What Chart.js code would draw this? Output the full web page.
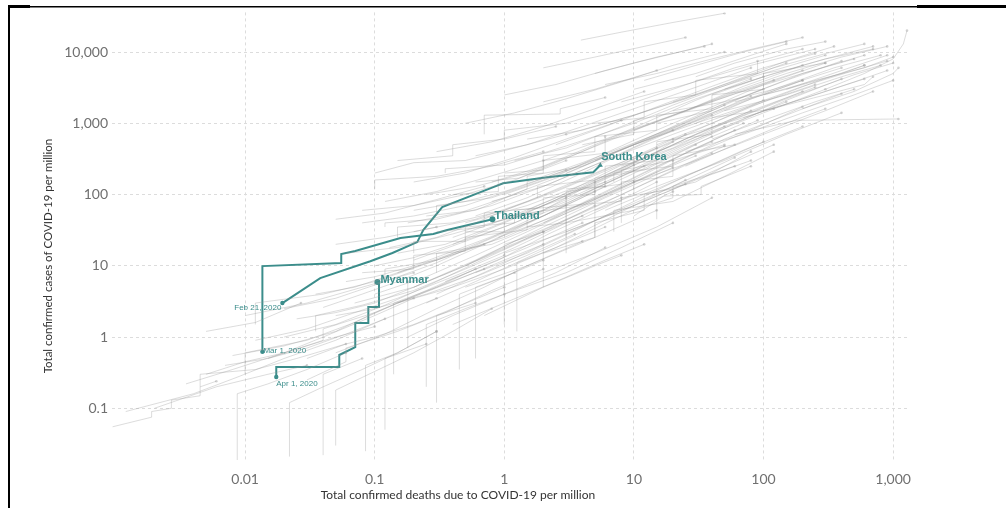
<!DOCTYPE html>
<html>
<head>
<meta charset="utf-8">
<script src="https://cdn.jsdelivr.net/npm/chart.js@4.4.1/dist/chart.umd.min.js"></script>
<style>
  html, body { margin: 0; padding: 0; background: #ffffff; }
  canvas { display: block; }
</style>
</head>
<body>
<canvas id="c" width="1006" height="508"></canvas>
<script>
// ---- Tick labels ----
const xTicks = [0.01, 0.1, 1, 10, 100, 1000];
const yTicks = [0.1, 1, 10, 100, 1000, 10000];

// ---- Highlighted countries: deaths per million (x), cases per million (y) ----
const koreaDeaths = [0.0194, 0.038, 0.0925, 0.137, 0.213, 0.237, 0.332, 0.823, 0.98, 2.15, 4.86, 5.5];
const koreaCases  = [3.0, 6.7, 11.6, 15.1, 21.5, 31.7, 66.5, 127, 144, 175, 206, 258];

const thailandDeaths = [0.0136, 0.0136, 0.0552, 0.0552, 0.0708, 0.158, 0.283, 0.363, 0.81];
const thailandCases  = [0.62, 9.9, 10.9, 14.6, 16.1, 24.5, 27.9, 31.7, 45];

const myanmarDeaths = [0.0174, 0.0174, 0.0533, 0.0533, 0.0708, 0.0708, 0.0893, 0.0893, 0.108, 0.108, 0.105];
const myanmarCases  = [0.275, 0.38, 0.38, 0.56, 0.72, 1.57, 1.57, 2.63, 2.63, 5.5, 5.9];

const countryNames = ['South Korea', 'Thailand', 'Myanmar'];
const startDates   = ['Feb 21, 2020', 'Mar 1, 2020', 'Apr 1, 2020'];

// ---- Other countries (grey background trajectories), [deaths, cases] ----
const grayLow = [
  [[0.00095,0.055],[0.0019,0.075],[0.0019,0.09],[0.0027,0.10],[0.0027,0.13],[0.0045,0.15],[0.0045,0.2],[0.006,0.24]],
  [[0.0012,0.09],[0.004,0.16],[0.009,0.28],[0.02,0.5],[0.05,0.9],[0.12,1.8]],
  [[0.0035,0.22],[0.008,0.35],[0.02,0.6],[0.04,1.0],[0.1,2.0],[0.2,3.5]],
  [[0.008,0.55],[0.02,0.75],[0.05,1.2],[0.1,2.2],[0.3,5],[0.6,9]],
  [[0.0087,0.018],[0.0087,0.16],[0.015,0.22],[0.03,0.35],[0.06,0.6]],
  [[0.022,0.021],[0.022,0.12],[0.04,0.2],[0.08,0.35],[0.15,0.6],[0.3,1.2]],
  [[0.05,0.03],[0.05,0.18],[0.09,0.3],[0.2,0.6],[0.4,1.2],[0.8,2.5]],
  [[0.085,0.025],[0.085,0.4],[0.15,0.6],[0.3,1.2]],
  [[0.04,0.022],[0.04,0.3],[0.08,0.5]],
  [[0.002,0.1],[0.006,0.2],[0.015,0.3],[0.03,0.4]],
  [[0.005,0.3],[0.01,0.45],[0.02,0.6],[0.05,1],[0.1,1.4]],
  [[0.005,1.2],[0.012,1.6],[0.027,3]],
  [[0.03,0.5],[0.06,0.8],[0.1,1],[0.2,1.5],[0.4,2.5],[1,5]],
  [[0.14,0.3],[0.14,3],[0.3,5],[0.7,9]],
  [[0.25,0.2],[0.25,1.5],[0.5,2.5],[1,4]],
  [[0.45,0.35],[0.45,4],[1,7],[2,12]],
  [[1.25,1.2],[1.25,11],[2.5,18],[6,35]],
  [[0.7,2],[2,5],[5,10],[8,14]],
  [[0.18,1],[0.4,2],[1,4],[2.5,8],[6,18]],
  [[0.012,0.9],[0.03,1.3],[0.06,2],[0.15,3.5],[0.4,7],[1,14]],
  [[0.01,2],[0.03,3],[0.08,5],[0.2,8]],
  [[0.01,0.3],[0.01,0.6],[0.03,0.9],[0.07,1.6],[0.15,3],[0.4,6],[1,12],[2,20]],
  [[0.015,0.5],[0.04,0.9],[0.04,1.3],[0.1,2.2],[0.25,4.5],[0.6,9],[1.5,18],[4,40]],
  [[0.02,1],[0.05,1.5],[0.12,2.8],[0.3,6],[0.8,14],[2,30],[5,70]],
  [[0.012,1.5],[0.012,3],[0.04,4],[0.1,6],[0.3,12],[0.8,25],[2,55],[6,130]],
  [[0.03,0.25],[0.06,0.45],[0.06,0.7],[0.15,1.2],[0.35,2.2],[0.8,4.5],[2,9]],
  [[0.02,2.5],[0.05,3.5],[0.12,6],[0.3,11],[0.7,22],[2,50],[5,120],[12,250]],
  [[0.05,0.6],[0.12,1.1],[0.3,2.5],[0.7,5],[1.5,10],[4,22]],
  [[0.035,1.2],[0.035,2],[0.08,2.8],[0.2,4.5],[0.5,9],[1.2,18],[3,40],[8,90]],
  [[0.007,0.4],[0.015,0.5],[0.03,0.7],[0.06,1.1],[0.12,1.8],[0.3,3.5]],
  [[0.0045,0.2],[0.0045,0.3],[0.012,0.35],[0.025,0.5],[0.06,0.8]],
  [[0.3,0.12],[0.3,2],[0.6,3]],
  [[0.6,0.5],[0.6,5],[1.2,8]],
  [[1,1.5],[1,20],[2,30]],
  [[2,5],[2,30],[4,50]],
  [[0.12,0.05],[0.12,0.5],[0.25,0.8]],
  [[0.18,0.7],[0.18,6]],
  [[0.15,3],[0.4,5],[1,9],[2.5,18],[7,45],[20,110]],
  [[0.05,2],[0.1,2.5],[0.25,4],[0.6,7],[1.5,14],[3.5,28]],
  [[0.4,1.5],[1,3],[2.5,6],[6,12],[12,20]]
];
const grayMid = [
  [[0.025,1.8],[0.05,2.2],[0.1,3],[0.2,5],[0.5,10],[1,18],[2,30]],
  [[0.04,2.6],[0.08,4],[0.15,6],[0.3,10],[0.7,20],[1.5,40],[3,70]],
  [[0.06,6],[0.1,7],[0.2,10],[0.4,16],[1,30],[2,50],[5,110]],
  [[0.1,10],[0.2,13],[0.4,20],[1,40],[2,70],[5,150],[10,260]],
  [[0.13,18],[0.3,25],[0.6,40],[1,60],[3,130],[8,280],[20,600]],
  [[0.12,35],[0.12,40],[0.3,45],[0.8,70],[2,130],[6,300],[15,650],[40,1300]],
  [[0.035,4],[0.07,5],[0.15,8],[0.3,12],[0.7,20]],
  [[0.15,8],[0.4,15],[1,25],[3,60],[10,150],[30,350]],
  [[0.2,5],[0.5,10],[1.2,22],[4,55],[12,140],[40,380]],
  [[0.3,4],[0.8,9],[2,20],[6,50],[20,130],[60,330]],
  [[0.07,3],[0.2,5],[0.6,12],[2,35],[6,90],[20,240]],
  [[0.4,20],[1,35],[3,80],[8,180],[25,450],[70,1000]],
  [[0.3,50],[0.3,70],[0.8,90],[2,160],[6,350],[20,800]],
  [[0.2,30],[0.6,45],[1.5,80],[5,200],[15,450]],
  [[0.1,200],[0.2,280],[0.5,300],[1.2,450],[3,700]],
  [[1,15],[3,30],[10,70],[25,140]],
  [[0.5,5],[1.5,10],[5,25],[15,60]],
  [[2,8],[5,15],[15,35],[40,90]],
  [[1,4],[3,8],[8,18],[20,40]],
  [[3,25],[3,40],[10,60],[20,90],[20,130],[60,250]],
  [[3,30],[10,70],[30,160],[80,300]],
  [[5,60],[15,130],[50,300],[150,700],[400,1400]],
  [[10,50],[17,95],[33,100],[33,130],[80,250]],
  [[15,45],[15,400],[25,700]],
  [[7,150],[7,200],[20,250],[20,300],[50,500]],
  [[0.1,4],[0.25,7],[0.6,14],[1.5,30],[4,70],[10,160],[25,380],[60,800]],
  [[0.12,6],[0.12,9],[0.3,12],[0.8,22],[2,50],[5,110],[15,280],[40,650]],
  [[0.15,15],[0.35,20],[0.8,35],[2,70],[5,150],[12,320],[30,700],[80,1500]],
  [[0.2,12],[0.5,22],[1.2,40],[3,85],[8,190],[20,420],[50,900]],
  [[0.25,3],[0.6,6],[1.5,13],[4,30],[10,70],[25,160]],
  [[0.3,8],[0.3,15],[0.8,20],[2,40],[5,90],[12,200],[30,450],[90,1100]],
  [[0.4,25],[1,45],[2.5,90],[6,200],[15,450],[40,1000],[100,2100]],
  [[0.18,40],[0.45,55],[1,90],[2.5,170],[7,380],[20,850],[50,1800]],
  [[0.5,10],[1.2,20],[3,45],[8,100],[20,220],[50,480]],
  [[0.35,6],[0.9,12],[2.2,28],[6,65],[15,150]],
  [[0.15,25],[0.15,35],[0.4,40],[1,60],[2.5,110],[7,240],[20,550]],
  [[0.9,25],[2.5,50],[6,110],[15,250],[40,550]],
  [[2,40],[5,80],[12,170],[30,380],[80,800],[200,1700]],
  [[6,60],[15,120],[40,260],[100,550]],
  [[8,40],[8,90],[20,120],[50,250],[120,500]],
  [[3,15],[3,100],[6,150]],
  [[5,25],[5,150]],
  [[10,100],[10,300]],
  [[0.2,15],[0.2,22],[0.5,22],[0.5,35],[1.2,40],[1.2,60],[3,70],[3,110],[8,140],[8,220],[20,300]],
  [[0.5,30],[1,30],[1,50],[2,55],[2,90],[5,100],[5,170],[12,220],[30,500]],
  [[0.08,8],[0.2,9],[0.2,14],[0.5,16],[0.5,25],[1.5,32],[1.5,55],[4,70],[10,150]],
  [[3,120],[6,130],[6,250],[15,300],[15,550],[40,700],[40,1200],[120,1600]],
  [[0.4,100],[0.9,110],[0.9,180],[2,200],[2,300],[6,380],[6,650]],
  [[1.5,35],[3,40],[3,70],[8,80],[8,150],[20,180],[20,350],[60,500]],
  [[2,15],[5,25],[5,40],[12,60],[12,100],[30,150],[80,400]],
  [[0.6,8],[1.5,15],[4,35],[10,80],[25,180],[70,420],[200,900]],
  [[0.8,40],[2,60],[4,120],[10,260],[30,600],[100,1400],[300,3000]],
  [[0.3,30],[0.7,35],[0.7,55],[1.8,65],[5,140],[12,300]],
  [[3,60],[7,110],[18,250],[50,600],[150,1300],[400,2600]],
  [[0.06,15],[0.15,18],[0.4,28],[1,45],[3,90]],
  [[0.08,40],[0.2,50],[0.5,70],[1.2,120],[3,220]],
  [[0.05,20],[0.12,25],[0.3,35]],
  [[7,30],[7,60],[20,80],[50,180],[120,400]],
  [[0.08,60],[0.2,70],[0.5,100],[1.2,160],[3,300]],
  [[0.1,120],[0.1,160],[0.3,180],[0.8,250],[2,400]],
  [[0.05,45],[0.12,55],[0.3,85],[0.7,130]],
  [[0.12,80],[0.3,110],[0.7,170],[2,300]]
];
const grayHigh = [
  [[0.2,60],[0.5,80],[1,110],[3,220],[10,500],[30,1100],[80,2400]],
  [[0.25,100],[0.6,130],[1.5,200],[4,400],[12,900],[40,2000],[120,4000]],
  [[0.35,200],[0.35,230],[1,260],[3,480],[10,1000],[30,2200],[100,4500]],
  [[0.6,350],[1.5,500],[4,900],[10,1600],[30,3200],[80,6000]],
  [[1,600],[1,800],[3,1000],[8,1700],[20,3000],[60,6000],[200,11000]],
  [[0.7,700],[0.7,1300],[2.7,1350],[2.7,1600],[6,2300]],
  [[0.5,40],[1.5,70],[5,160],[15,400],[50,900],[150,2000]],
  [[0.8,80],[2,130],[6,300],[20,700],[70,1600],[250,3500]],
  [[1.5,150],[4,280],[12,600],[40,1400],[120,3000],[400,6000]],
  [[2,300],[6,600],[20,1300],[60,2700],[200,5500]],
  [[3,700],[10,1300],[30,2500],[100,5000],[300,9000]],
  [[8,2000],[25,3500],[80,6500],[250,11000]],
  [[3.9,14700],[8,19000],[20,26000],[50,35000]],
  [[5,5000],[10,7000],[20,9500],[40,13000]],
  [[30,4500],[60,7000],[150,11000],[300,14000]],
  [[40,2500],[100,4500],[300,8000],[700,12000]],
  [[300,3000],[600,5000],[1000,8000],[1200,13000],[1280,20000]],
  [[50,1500],[150,2500],[400,4500],[800,6500]],
  [[20,600],[60,1100],[200,2200],[600,4200]],
  [[60,700],[180,1100],[1100,1150]],
  [[10,150],[30,300],[100,700],[300,1500],[700,2800]],
  [[100,1500],[300,2500],[600,3500],[700,4500]],
  [[150,3000],[400,5000],[600,6500]],
  [[10,3000],[30,5000],[80,9000],[150,13000]],
  [[2,2000],[5,3000],[15,5500]],
  [[20,1500],[50,2000],[120,3000],[350,6000],[800,9000]],
  [[0.6,50],[1.5,90],[4,200],[10,450],[25,950],[70,2000],[200,4000]],
  [[1,100],[2.5,180],[6,380],[15,800],[40,1700],[100,3500],[300,7000]],
  [[0.8,150],[2,250],[5,500],[12,1000],[30,2100],[80,4200]],
  [[1.5,60],[4,130],[10,280],[25,600],[70,1300],[200,2800]],
  [[3,200],[8,420],[20,900],[50,1900],[150,4000],[400,7500]],
  [[1.2,300],[3,450],[8,900],[20,1800],[60,3800],[150,7000]],
  [[2.5,500],[6,900],[15,1700],[40,3300],[100,6000],[250,9500]],
  [[4,100],[10,220],[25,480],[60,1000],[150,2100],[400,4200]],
  [[5,300],[12,600],[30,1200],[80,2600],[200,5000],[600,9000]],
  [[1.8,90],[1.8,130],[5,160],[12,330],[30,700],[80,1500],[250,3200]],
  [[10,800],[25,1500],[60,2800],[150,5000],[400,8500],[900,12000]],
  [[15,500],[40,1000],[100,2000],[250,3800],[600,6500]],
  [[20,2000],[50,3500],[120,6000],[300,9500],[600,13000]],
  [[30,1000],[80,1800],[200,3300],[500,5500],[900,7500]],
  [[50,3000],[120,5000],[300,8000],[700,11000]],
  [[40,600],[100,1100],[250,2000],[500,3000]],
  [[70,1200],[200,2200],[500,3800],[900,5500]],
  [[12,4000],[30,6500],[70,10000],[150,14000]],
  [[100,2500],[250,4000],[600,6000],[1000,8500]],
  [[25,250],[60,500],[150,1000],[300,1600]],
  [[0.5,1000],[1.2,1400],[3,2200],[8,3800],[20,6500],[50,10000]],
  [[1,2500],[2.5,3500],[6,5500],[15,8500],[35,12000]],
  [[0.3,400],[0.8,550],[2,900],[5,1600],[12,2800]],
  [[2,6000],[5,8500],[12,12000],[25,16000]],
  [[1,200],[2,220],[2,350],[5,400],[5,650],[15,800],[15,1300],[40,1600],[100,3000]],
  [[0.25,50],[0.6,60],[1.5,120],[1.5,180],[4,250],[10,500],[30,1000],[80,2200],[200,4000]],
  [[5,1000],[12,1200],[12,2000],[30,2500],[30,4000],[90,5000],[90,7500]],
  [[8,250],[20,450],[50,1000],[150,2200],[500,4800],[1000,7000]],
  [[15,1000],[40,1500],[40,2500],[100,3000],[100,5000],[300,7000]],
  [[0.6,150],[1.3,170],[3,320],[8,700],[25,1500],[70,3300],[200,6500]],
  [[4,500],[10,700],[10,1100],[25,1500],[60,2600],[200,5000],[500,8000]],
  [[25,400],[70,700],[200,1400],[500,2500],[1000,4000]],
  [[60,2000],[150,3000],[400,5500],[900,9000]],
  [[200,1600],[500,2800],[1000,5000],[1100,6000]],
  [[1.5,600],[4,800],[10,1300],[25,2200],[60,4000],[150,7500],[350,12000]],
  [[6,3500],[15,5000],[40,8000],[100,12000],[200,16000]],
  [[0.15,300],[0.4,350],[0.4,500],[1,600],[2.5,900]],
  [[0.2,150],[0.5,200],[1.2,330],[3,600],[8,1100]]
];

// ---- Build datasets ----
const TEAL = '#3b8d8b';
const grayAll = [...grayLow, ...grayMid, ...grayHigh];
const datasets = grayAll.map(line => ({
  data: line.map(p => ({ x: p[0], y: p[1] })),
  showLine: true,
  borderColor: 'rgba(150,150,150,0.33)',
  borderWidth: 1,
  pointRadius: line.map((p, i) => i === line.length - 1 ? 1.3 : 0),
  pointBackgroundColor: 'rgba(160,160,160,0.45)',
  pointBorderWidth: 0,
  tension: 0
}));

function mainSet(xs, ys, endStyle) {
  const n = xs.length;
  return {
    data: xs.map((x, i) => ({ x: x, y: ys[i] })),
    showLine: true,
    borderColor: TEAL,
    borderWidth: 2,
    pointRadius: xs.map((x, i) => i === 0 ? 2.2 : (i === n - 1 ? 3 : 0)),
    pointStyle: xs.map((x, i) => i === n - 1 ? endStyle : 'circle'),
    pointBackgroundColor: TEAL,
    pointBorderColor: TEAL,
    pointBorderWidth: 0,
    tension: 0
  };
}
datasets.push(mainSet(koreaDeaths, koreaCases, 'triangle'));
datasets.push(mainSet(thailandDeaths, thailandCases, 'circle'));
datasets.push(mainSet(myanmarDeaths, myanmarCases, 'circle'));

function fmt(v) {
  return Number(v).toLocaleString('en-US', { maximumFractionDigits: 3 });
}

const annotations = {
  id: 'annotations',
  beforeDraw(chart) {
    const c = chart.ctx;
    c.save();
    c.fillStyle = '#ffffff';
    c.fillRect(0, 0, chart.width, chart.height);
    c.restore();
  },
  afterDatasetsDraw(chart) {
    const c = chart.ctx;
    const xs = chart.scales.x, ys = chart.scales.y;
    const series = [
      [koreaDeaths, koreaCases],
      [thailandDeaths, thailandCases],
      [myanmarDeaths, myanmarCases]
    ];
    c.save();
    c.fillStyle = TEAL;
    c.font = 'bold 11px "Liberation Sans", Arial, sans-serif';
    c.textBaseline = 'middle';
    c.textAlign = 'left';
    const nameOff = [[1, -8], [2, -3], [3, -2]];
    series.forEach((s, k) => {
      const n = s[0].length;
      const px = xs.getPixelForValue(s[0][n - 1]);
      const py = ys.getPixelForValue(s[1][n - 1]);
      c.fillText(countryNames[k], px + nameOff[k][0], py + nameOff[k][1]);
    });
    c.font = '8px "Liberation Sans", Arial, sans-serif';
    const dateOff = [[-1, 5, 'right'], [1, -1, 'left'], [0, 7, 'left']];
    series.forEach((s, k) => {
      const px = xs.getPixelForValue(s[0][0]);
      const py = ys.getPixelForValue(s[1][0]);
      c.textAlign = dateOff[k][2];
      c.fillText(startDates[k], px + dateOff[k][0], py + dateOff[k][1]);
    });
    c.restore();
  },
  afterDraw(chart) {
    const c = chart.ctx;
    c.save();
    c.fillStyle = '#333333';
    c.textAlign = 'center';
    c.textBaseline = 'middle';
    c.font = '12px Lato, sans-serif';
    c.fillText('Total confirmed deaths due to COVID-19 per million', 458, 495);
    c.font = '11.5px Lato, sans-serif';
    c.translate(48, 256);
    c.rotate(-Math.PI / 2);
    c.fillText('Total confirmed cases of COVID-19 per million', 0, 0);
    c.restore();
    c.save();
    c.fillStyle = '#000000';
    c.fillRect(8, 6, 2, 502);
    c.fillRect(8, 6, 909, 1.5);
    c.fillRect(8, 5, 22, 3);
    c.fillRect(917, 5, 89, 3);
    c.restore();
  }
};

new Chart(document.getElementById('c'), {
  type: 'scatter',
  data: { datasets: datasets },
  options: {
    responsive: false,
    animation: false,
    events: [],
    layout: { padding: { top: 12, right: 96, left: 0, bottom: 0 } },
    plugins: { legend: { display: false }, tooltip: { enabled: false } },
    scales: {
      x: {
        type: 'logarithmic',
        min: 0.00094,
        max: 1350,
        afterBuildTicks: s => { s.ticks = xTicks.map(v => ({ value: v })); },
        afterFit: s => { s.height = 48; },
        grid: { color: '#dcdcdc', lineWidth: 1, drawTicks: false },
        border: { display: false, dash: [3, 3] },
        ticks: {
          padding: 11,
          color: '#707070',
          font: { family: 'Lato', size: 14 },
          maxRotation: 0,
          autoSkip: false,
          callback: v => fmt(v)
        }
      },
      y: {
        type: 'logarithmic',
        min: 0.0188,
        max: 36000,
        afterBuildTicks: s => { s.ticks = yTicks.map(v => ({ value: v })); },
        afterFit: s => { s.width = 112; },
        grid: { color: '#dcdcdc', lineWidth: 1, drawTicks: false },
        border: { display: false, dash: [3, 3] },
        ticks: {
          padding: 4,
          color: '#707070',
          font: { family: 'Lato', size: 14 },
          autoSkip: false,
          callback: v => fmt(v)
        }
      }
    }
  },
  plugins: [annotations]
});
</script>
</body>
</html>
